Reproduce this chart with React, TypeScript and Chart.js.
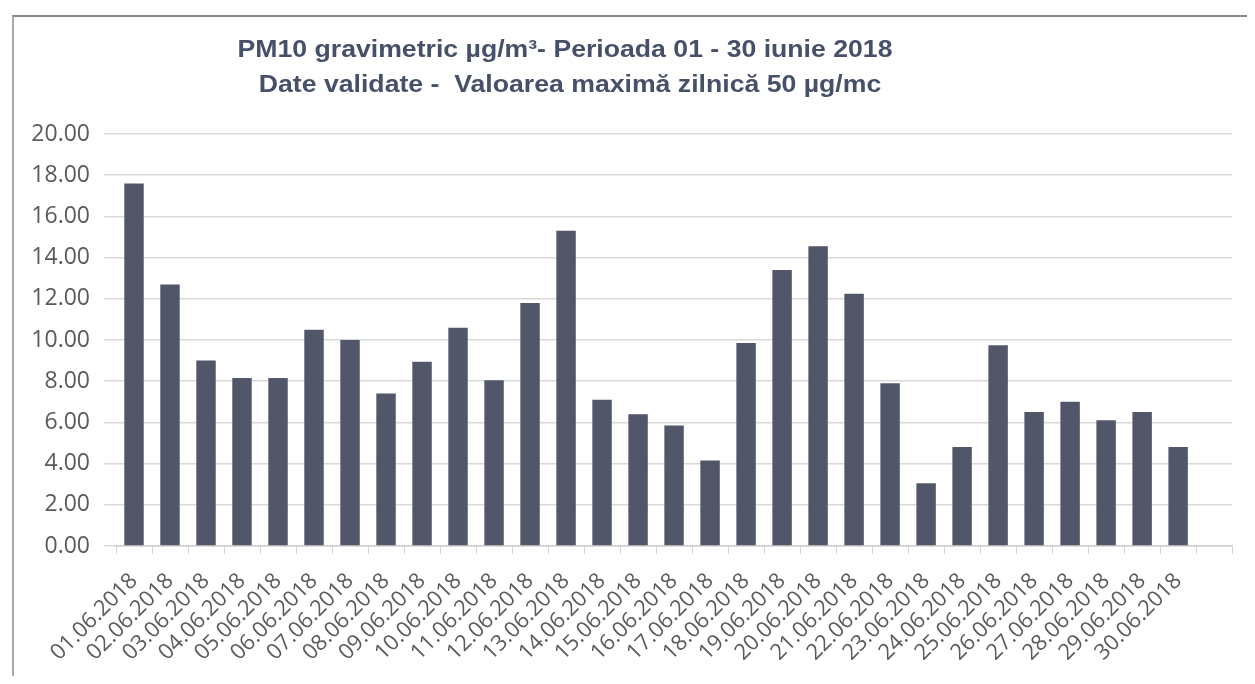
import React, { useEffect, useRef } from "react";
import { Chart, registerables } from "chart.js";

Chart.register(...registerables);

const categories: string[] = [
  "01.06.2018", "02.06.2018", "03.06.2018", "04.06.2018", "05.06.2018",
  "06.06.2018", "07.06.2018", "08.06.2018", "09.06.2018", "10.06.2018",
  "11.06.2018", "12.06.2018", "13.06.2018", "14.06.2018", "15.06.2018",
  "16.06.2018", "17.06.2018", "18.06.2018", "19.06.2018", "20.06.2018",
  "21.06.2018", "22.06.2018", "23.06.2018", "24.06.2018", "25.06.2018",
  "26.06.2018", "27.06.2018", "28.06.2018", "29.06.2018", "30.06.2018",
  "",
];

const pm10Values: (number | null)[] = [
  17.6, 12.7, 9.0, 8.15, 8.15, 10.5, 10.0, 7.4, 8.95, 10.6,
  8.05, 11.8, 15.3, 7.1, 6.4, 5.85, 4.15, 9.85, 13.4, 14.55,
  12.25, 7.9, 3.05, 4.8, 9.75, 6.5, 7.0, 6.1, 6.5, 4.8,
  null,
];

const titleLines: string[] = [
  "PM10 gravimetric µg/m³- Perioada 01 - 30 iunie 2018",
  "Date validate -  Valoarea maximă zilnică 50 µg/mc",
];

const yTicks = { min: 0, max: 20, step: 2 };

export default function App() {
  const ref = useRef<HTMLCanvasElement | null>(null);

  useEffect(() => {
    if (!ref.current) return;
    const titlePlugin = {
      id: "customTitle",
      afterDraw(chart: any) {
        const ctx = chart.ctx;
        const drawLine = (text: string, cx: number, cy: number) => {
          ctx.save();
          ctx.translate(cx, cy);
          ctx.scale(1.11, 1);
          ctx.fillStyle = "#465069";
          ctx.font = "bold 24px 'Liberation Sans', Arial, sans-serif";
          ctx.textAlign = "center";
          ctx.textBaseline = "middle";
          ctx.fillText(text, 0, 0);
          ctx.restore();
        };
        drawLine(titleLines[0], 557, 42);
        drawLine(titleLines[1], 562, 77);
      },
    };
    const chart = new Chart(ref.current, {
      type: "bar",
      data: {
        labels: categories,
        datasets: [
          {
            label: "PM10",
            data: pm10Values,
            backgroundColor: "#515769",
            barPercentage: 0.54,
            categoryPercentage: 1.0,
          },
        ],
      },
      options: {
        animation: false,
        responsive: false,
        maintainAspectRatio: false,
        layout: { padding: { top: 126, left: 0, right: 12, bottom: 0 } },
        plugins: {
          legend: { display: false },
          title: { display: false },
          tooltip: { enabled: false },
        },
        scales: {
          x: {
            afterFit: (scale: any) => {
              scale.height = 130;
            },
            grid: {
              display: true,
              drawOnChartArea: false,
              drawTicks: true,
              tickLength: 8,
              color: "#d4d4d4",
            },
            border: { display: true, color: "#cfcfcf", width: 1.5 },
            ticks: {
              autoSkip: false,
              maxRotation: 45,
              minRotation: 45,
              padding: 14,
              color: "#5a5a5a",
              font: { family: "'Open Sans', sans-serif", size: 22 },
            },
          },
          y: {
            min: yTicks.min,
            max: yTicks.max,
            afterFit: (scale: any) => {
              scale.width = 108;
            },
            grid: {
              color: "#d9d9d9",
              lineWidth: 1.5,
              drawTicks: true,
              tickLength: 12,
            },
            border: { display: false },
            ticks: {
              stepSize: yTicks.step,
              padding: 14,
              color: "#5a5a5a",
              font: { family: "'Open Sans', sans-serif", size: 23 },
              callback: (v: any) => Number(v).toFixed(2),
            },
          },
        },
      },
      plugins: [titlePlugin],
    });
    return () => chart.destroy();
  }, []);

  return (
    <div style={{ position: "relative", width: 1239, height: 668 }}>
      <div
        style={{
          position: "absolute",
          left: 4,
          top: 7,
          width: 1240,
          height: 670,
          borderTop: "2px solid #8a8a8a",
          borderLeft: "2px solid #a8a8a8",
        }}
      />
      <canvas
        ref={ref}
        width={1239}
        height={668}
        style={{ position: "absolute", left: 0, top: 0, width: 1239, height: 668 }}
      />
    </div>
  );
}
